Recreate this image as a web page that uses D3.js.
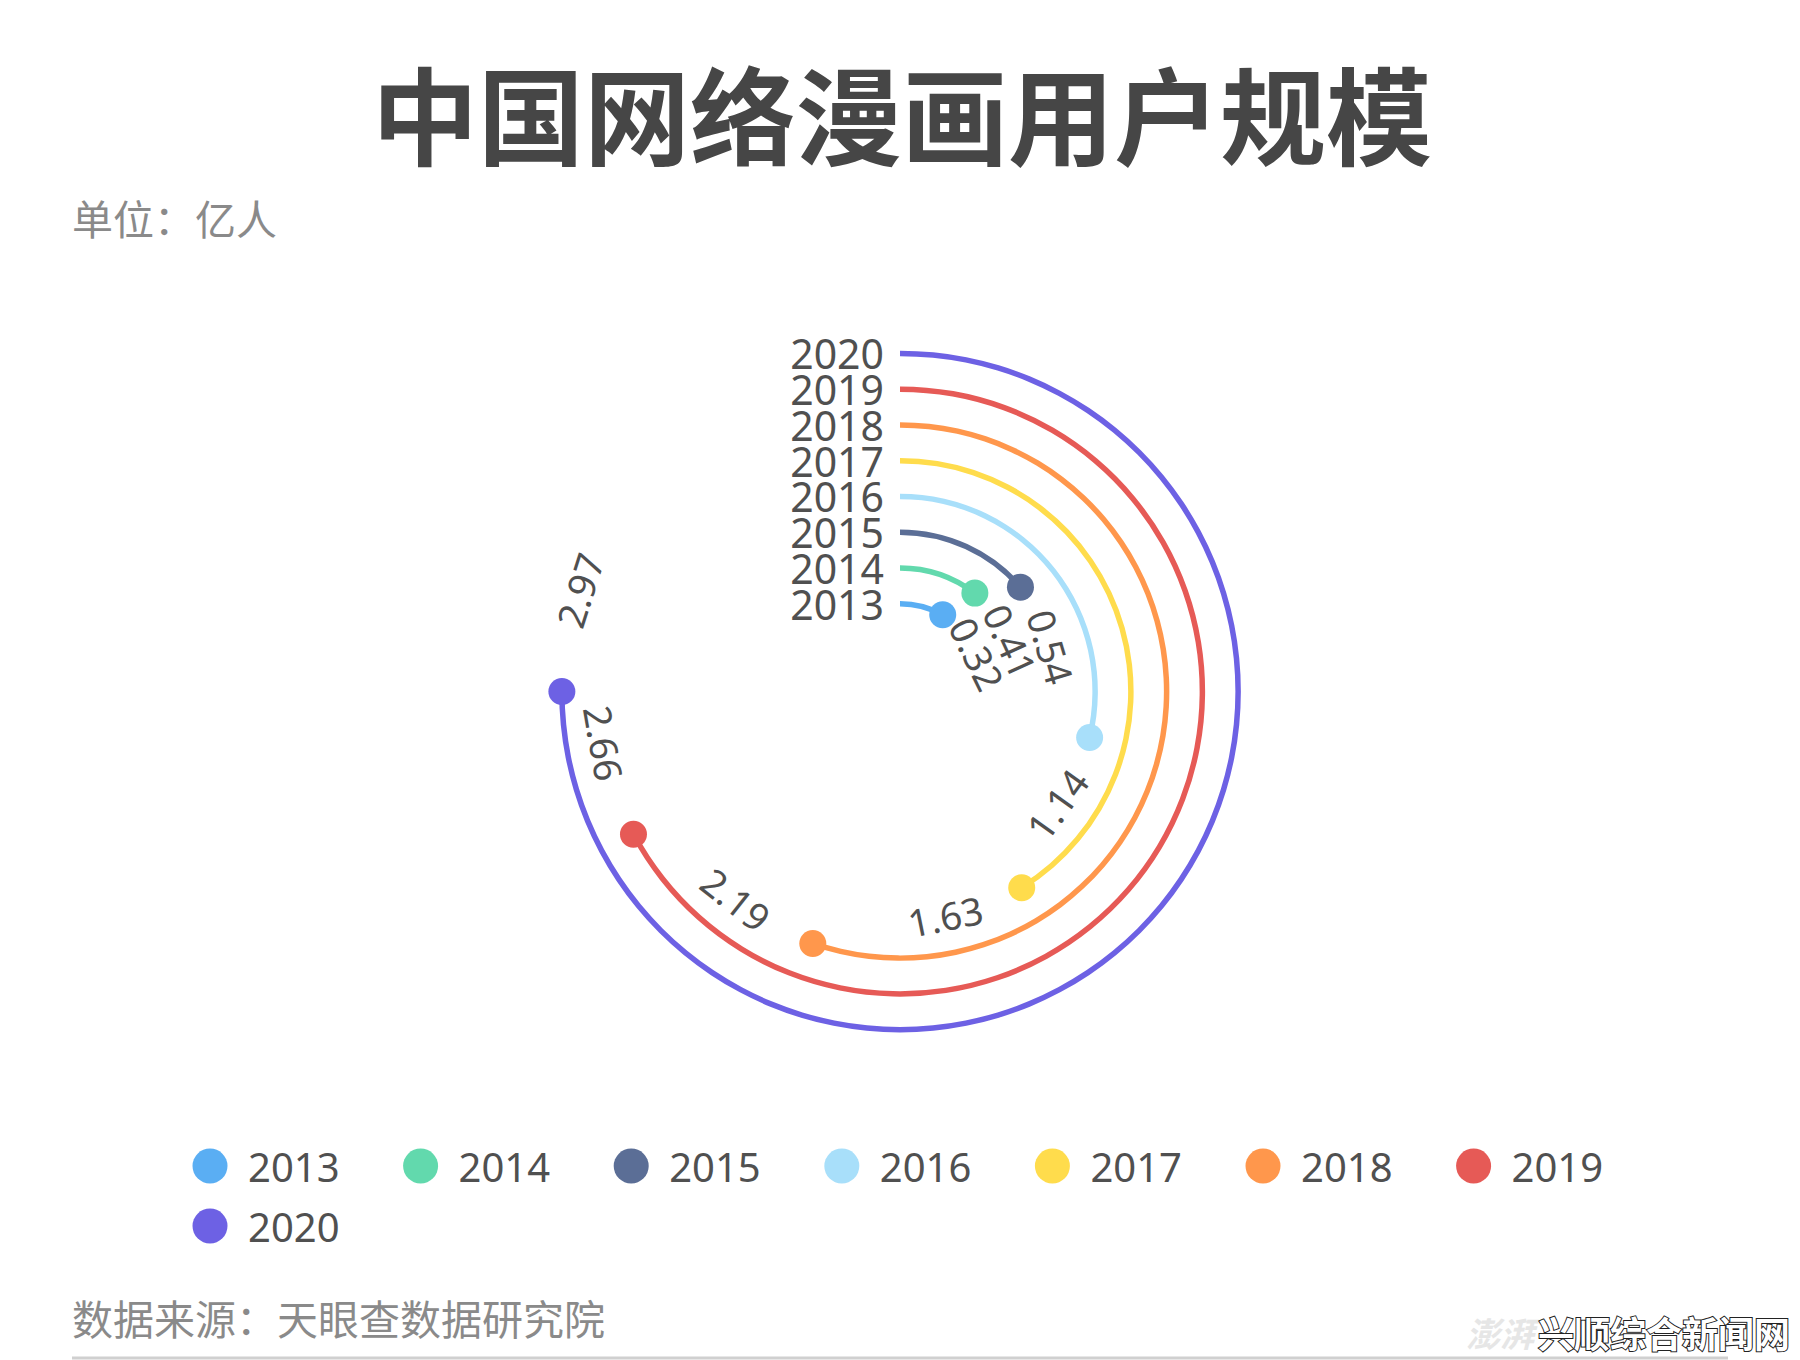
<!DOCTYPE html>
<html>
<head>
<meta charset="utf-8">
<script src="https://cdn.jsdelivr.net/npm/d3@7"></script>
<style>
  body { margin: 0; background: #fff; }
  text { font-family: "Noto Sans", "Noto Sans CJK SC", sans-serif; }
</style>
</head>
<body>
<div id="canvas"></div>
<script>
(function (d3) {
  'use strict';

  const width = 1800;
  const height = 1360;

  // data
  const years = ['2013', '2014', '2015', '2016', '2017', '2018', '2019', '2020'];
  const users = [0.32, 0.41, 0.54, 1.14, 1.63, 2.19, 2.66, 2.97];
  const colors = ['#5AAEF3', '#62D9AD', '#5B6E96', '#A8DFFA', '#FFDC4C', '#FF974C', '#E65A56', '#6D61E4'];

  const title = '中国网络漫画用户规模';
  const unitText = '单位：亿人';
  const sourceText = '数据来源：天眼查数据研究院';

  const rows = years.map((y, i) => ({ year: y, value: users[i], color: colors[i] }));

  const svg = d3.select('#canvas')
    .append('svg')
    .attr('width', width)
    .attr('height', height);

  svg.append('rect').attr('width', width).attr('height', height).attr('fill', '#fff');

  // titles
  svg.append('text')
    .attr('x', 902).attr('y', 111)
    .attr('text-anchor', 'middle')
    .attr('dominant-baseline', 'central')
    .style('font-family', '"Noto Sans CJK SC", sans-serif')
    .style('font-size', '106px')
    .style('font-weight', 700)
    .attr('fill', '#464646')
    .text(title);

  svg.append('text')
    .attr('x', 72).attr('y', 217)
    .attr('dominant-baseline', 'central')
    .style('font-family', '"Noto Sans CJK SC", sans-serif')
    .style('font-size', '41px')
    .attr('fill', '#8a8a8a')
    .text(unitText);

  // polar layout
  const cx = 900;
  const cy = 691.5;
  const lineW = 5.5;
  const dotR = 13.5;

  const rScale = d3.scaleBand()
    .domain(years)
    .range([70, 356])
    .paddingInner(0);

  const aScale = d3.scaleLinear()
    .domain([0, d3.max(users) * 4 / 3])
    .range([0, 2 * Math.PI]);

  const ringR = (d) => rScale(d.year) + rScale.bandwidth() / 2;
  const px = (a, r) => cx + r * Math.sin(a);
  const py = (a, r) => cy - r * Math.cos(a);

  const g = svg.append('g');

  const arc = d3.arc()
    .innerRadius((d) => ringR(d) - lineW / 2)
    .outerRadius((d) => ringR(d) + lineW / 2)
    .startAngle(0)
    .endAngle((d) => aScale(d.value));

  g.selectAll('path.ring')
    .data(rows)
    .enter()
    .append('path')
    .attr('class', 'ring')
    .attr('transform', `translate(${cx},${cy})`)
    .attr('d', arc)
    .attr('fill', (d) => d.color);

  g.selectAll('circle.end')
    .data(rows)
    .enter()
    .append('circle')
    .attr('class', 'end')
    .attr('cx', (d) => px(aScale(d.value), ringR(d)))
    .attr('cy', (d) => py(aScale(d.value), ringR(d)))
    .attr('r', dotR)
    .attr('fill', (d) => d.color);

  // year labels at arc start
  g.selectAll('text.year')
    .data(rows)
    .enter()
    .append('text')
    .attr('class', 'year')
    .attr('x', cx - 16)
    .attr('y', (d) => cy - ringR(d))
    .attr('text-anchor', 'end')
    .attr('dominant-baseline', 'central')
    .style('font-size', '41px')
    .attr('fill', '#505050')
    .text((d) => d.year);

  // value labels, placed along the ring past the end point
  const labelAngle = (d) => aScale(d.value) + 36 / ringR(d) + 0.2;
  const labelRot = (d) => {
    let deg = labelAngle(d) * 180 / Math.PI;
    if (deg > 90 && deg < 270) deg -= 180;
    return deg;
  };

  g.selectAll('text.value')
    .data(rows)
    .enter()
    .append('text')
    .attr('class', 'value')
    .attr('transform', (d) => {
      const a = labelAngle(d);
      const r = ringR(d) - 2;
      return `translate(${px(a, r)},${py(a, r)}) rotate(${labelRot(d)})`;
    })
    .attr('text-anchor', 'middle')
    .attr('dominant-baseline', 'central')
    .style('font-size', '38px')
    .attr('fill', '#505050')
    .text((d) => d.value.toFixed(2));

  // legend
  const perRow = 7;
  const legend = svg.selectAll('g.legend')
    .data(rows)
    .enter()
    .append('g')
    .attr('class', 'legend')
    .attr('transform', (d, i) => `translate(${210 + (i % perRow) * 210.6},${1166 + Math.floor(i / perRow) * 60})`);

  legend.append('circle')
    .attr('r', 17.5)
    .attr('fill', (d) => d.color);

  legend.append('text')
    .attr('x', 38)
    .attr('dominant-baseline', 'central')
    .style('font-size', '40px')
    .attr('fill', '#505050')
    .text((d) => d.year);

  // footer
  svg.append('text')
    .attr('x', 72).attr('y', 1317)
    .attr('dominant-baseline', 'central')
    .style('font-family', '"Noto Sans CJK SC", sans-serif')
    .style('font-size', '41px')
    .attr('fill', '#8a8a8a')
    .text(sourceText);

  svg.append('line')
    .attr('x1', 72).attr('x2', 1728)
    .attr('y1', 1358).attr('y2', 1358)
    .attr('stroke', '#d0d0d0')
    .attr('stroke-width', 3);

  // watermark
  svg.append('text')
    .attr('x', 1534).attr('y', 1332)
    .attr('text-anchor', 'end')
    .attr('dominant-baseline', 'central')
    .style('font-family', '"Noto Sans CJK SC", sans-serif')
    .style('font-size', '34px')
    .style('font-style', 'italic')
    .style('font-weight', 700)
    .attr('fill', '#e6e6e6')
    .text('澎湃');

  svg.append('text')
    .attr('x', 1790).attr('y', 1332)
    .attr('text-anchor', 'end')
    .attr('dominant-baseline', 'central')
    .style('font-family', '"Noto Sans CJK SC", sans-serif')
    .style('font-size', '36px')
    .style('font-weight', 700)
    .attr('fill', '#fff')
    .attr('stroke', '#222')
    .attr('stroke-width', 2)
    .style('paint-order', 'stroke')
    .text('兴顺综合新闻网');

}(d3));
</script>
</body>
</html>
